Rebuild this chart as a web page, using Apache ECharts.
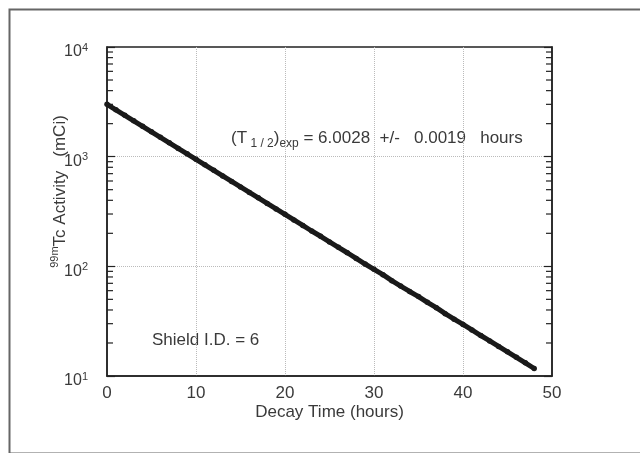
<!DOCTYPE html>
<html>
<head>
<meta charset="utf-8">
<script src="https://cdn.jsdelivr.net/npm/echarts@6/dist/echarts.min.js"></script>
<style>
html,body{margin:0;padding:0;background:#fff;}
#chart{width:640px;height:453px;}
</style>
</head>
<body>
<div id="chart"></div>
<script>
// Decay time (hours)
var decayTime = [0,1,2,3,4,5,6,7,8,9,10,11,12,13,14,15,16,17,18,19,20,21,22,23,24,25,26,27,28,29,30,31,32,33,34,35,36,37,38,39,40,41,42,43,44,45,46,47,48];
// 99mTc activity (mCi)
var activity = [3000,2673,2381,2121,1890,1684,1500,1336,1190,1061,945,842,750,668,595,530,472,421,375,334,298,265,236,210,188,167,149,133,118,105,94,84,74,66,59,53,47,42,37,33,29.5,26.3,23.4,20.9,18.6,16.6,14.8,13.2,11.7];
// x tick values / y decade tick values
var xTicks = [0,10,20,30,40,50];
var yDecades = [10,100,1000,10000];
// log minor tick values
var yMinorTicks = [20,30,40,50,60,70,80,90,200,300,400,500,600,700,800,900,2000,3000,4000,5000,6000,7000,8000,9000];

var FONT = '"Liberation Sans", Arial, Helvetica, sans-serif';
var TXT = '#3a3a3a';
var FS = 17;

var chart = echarts.init(document.getElementById('chart'));

var points = decayTime.map(function (t, i) { return [t, activity[i]]; });
var tickData = [];
yMinorTicks.forEach(function (v) { tickData.push([0, v, 0]); tickData.push([50, v, 1]); });

var yLabelRich = {
  b: {fontSize: 16, fontFamily: FONT, color: TXT, lineHeight: 20},
  sup: {fontSize: 11, fontFamily: FONT, color: TXT, verticalAlign: 'top', lineHeight: 20}
};

chart.setOption({
  animation: false,
  backgroundColor: '#fff',
  grid: {left: 107, right: 88, top: 47, bottom: 77, show: true, borderColor: '#222', borderWidth: 1.5, backgroundColor: 'transparent'},
  xAxis: {
    type: 'value', min: 0, max: 50, interval: 10,
    name: 'Decay Time (hours)', nameLocation: 'middle', nameGap: 28, nameMoveOverlap: false,
    nameTextStyle: {fontSize: FS, fontFamily: FONT, color: TXT},
    axisLine: {show: true, lineStyle: {color: '#222', width: 1.5}},
    axisTick: {show: false},
    axisLabel: {fontSize: FS, fontFamily: FONT, color: TXT, margin: 9},
    splitLine: {show: true, showMinLine: false, showMaxLine: false, lineStyle: {color: '#bbb', type: 'dotted', width: 1}}
  },
  yAxis: [{
    type: 'log', logBase: 10, min: 10, max: 10000,
    name: '{sup|99m}{b|Tc Activity   (mCi)}', nameLocation: 'middle', nameRotate: 90, nameGap: 36, nameMoveOverlap: false,
    nameTextStyle: {padding: [0, 0, 0, 40], rich: {
      b: {fontSize: FS, fontFamily: FONT, color: TXT, lineHeight: 22},
      sup: {fontSize: 11, fontFamily: FONT, color: TXT, verticalAlign: 'top', lineHeight: 22}
    }},
    axisLine: {show: true, lineStyle: {color: '#222', width: 1.5}},
    axisTick: {show: true, inside: true, length: 8, lineStyle: {color: '#222', width: 1.2}},
    axisLabel: {
      margin: 19, padding: [10, 0, 0, 0],
      formatter: function (v) { return '{b|10}{sup|' + Math.round(Math.log10(v)) + '}'; },
      rich: yLabelRich
    },
    splitLine: {show: true, showMinLine: false, showMaxLine: false, lineStyle: {color: '#bbb', type: 'dotted', width: 1}}
  }, {
    type: 'log', logBase: 10, min: 10, max: 10000, position: 'right',
    axisLine: {show: true, lineStyle: {color: '#222', width: 1.5}},
    axisTick: {show: true, inside: true, length: 8, lineStyle: {color: '#222', width: 1.2}},
    axisLabel: {show: false},
    splitLine: {show: false}
  }],
  series: [{
    type: 'custom',
    data: tickData,
    silent: true,
    clip: false,
    renderItem: function (params, api) {
      var p = api.coord([api.value(0), api.value(1)]);
      var dir = api.value(2) === 0 ? 1 : -1;
      return {
        type: 'line',
        shape: {x1: p[0], y1: p[1], x2: p[0] + dir * 6, y2: p[1]},
        style: {stroke: '#222', lineWidth: 1.2}
      };
    }
  }, {
    type: 'line',
    data: points,
    clip: false,
    showAllSymbol: true,
    symbol: 'circle',
    symbolSize: 5.5,
    lineStyle: {color: '#1a1a1a', width: 5},
    itemStyle: {color: '#1a1a1a'}
  }],
  graphic: [{
    type: 'rect', left: 7, top: 7, silent: true,
    shape: {x: 0, y: 0, width: 640, height: 444},
    style: {fill: 'none', stroke: '#666', lineWidth: 2}
  }, {
    type: 'text', left: 231, top: 130,
    style: {
      text: '(T{sub| 1 / 2}){sub|exp} = 6.0028  +/-   0.0019   hours',
      font: FS + 'px ' + FONT, fill: TXT,
      rich: {
        sub: {fontSize: 12, fontFamily: FONT, fill: TXT, verticalAlign: 'bottom', lineHeight: 22}
      }
    }
  }, {
    type: 'text', left: 152, top: 332,
    style: {text: 'Shield I.D. = 6', font: FS + 'px ' + FONT, fill: TXT}
  }]
});
</script>
</body>
</html>
